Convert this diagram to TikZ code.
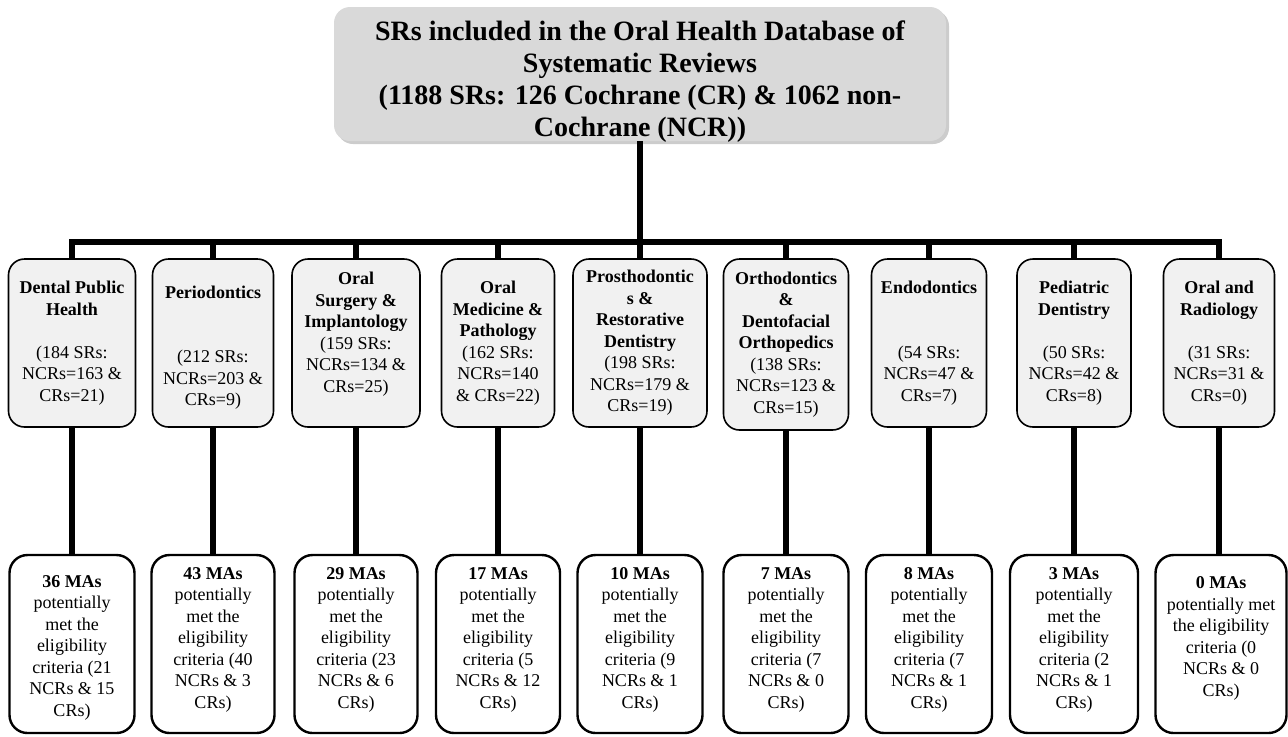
\documentclass[tikz,border=0pt]{standalone}
\usepackage{fontspec}
\setmainfont{Liberation Serif}
\usetikzlibrary{shadows}
\definecolor{topgray}{RGB}{217,217,217}
\definecolor{midgray}{RGB}{241,241,241}

\begin{document}
\begin{tikzpicture}[x=0.5pt, y=-0.5pt, line join=miter,
    every node/.style={align=center, inner sep=0pt, font=\fontsize{9}{10.75}\selectfont},
    topbox/.style={rounded corners=8pt, fill=topgray, minimum width=306pt,
        text height=64.5pt, text depth=2.5pt,
        font=\fontsize{14}{15.85}\selectfont\bfseries,
        drop shadow={shadow xshift=1.5pt, shadow yshift=-1.5pt, fill=black!40}},
    midbox/.style={draw, line width=0.8pt, rounded corners=8pt, fill=midgray, minimum height=84pt},
    botbox/.style={draw, line width=1.2pt, rounded corners=9pt, fill=white,
        text height=76.5pt, text depth=12.5pt},
    conn/.style={line width=3pt}]
    \useasboundingbox (0,0) rectangle (1288,736);

    % database
    \node[topbox] (db) at (640,74) {SRs included in the Oral Health Database of\\Systematic Reviews\\(1188 SRs: 126 Cochrane (CR) \& 1062 non-\\Cochrane (NCR))};
    \coordinate (bar) at (640,242);

    % specialties
    \node[midbox, minimum width=63.5pt] (m1) at (72,343) {\textbf{Dental Public}\\\textbf{Health}\\\mbox{}\\(184 SRs:\\NCRs=163 \&\\CRs=21)};
    \node[midbox, minimum width=60.5pt] (m2) at (213,343) {\mbox{}\\\textbf{Periodontics}\\\mbox{}\\\mbox{}\\(212 SRs:\\NCRs=203 \&\\CRs=9)};
    \node[midbox, minimum width=64pt] (m3) at (356,343) {\textbf{Oral}\\\textbf{Surgery \&}\\\textbf{Implantology}\\(159 SRs:\\NCRs=134 \&\\CRs=25)\\\mbox{}};
    \node[midbox, minimum width=56.5pt] (m4) at (498,343) {\textbf{Oral}\\\textbf{Medicine \&}\\\textbf{Pathology}\\(162 SRs:\\NCRs=140\\\& CRs=22)};
    \node[midbox, minimum width=67pt] (m5) at (640,343) {\textbf{Prosthodontic}\\\textbf{s \&}\\\textbf{Restorative}\\\textbf{Dentistry}\\(198 SRs:\\NCRs=179 \&\\CRs=19)};
    \node[midbox, minimum width=62.5pt, minimum height=85.5pt] (m6) at (786,344.5) {\textbf{Orthodontics}\\\textbf{\&}\\\textbf{Dentofacial}\\\textbf{Orthopedics}\\(138 SRs:\\NCRs=123 \&\\CRs=15)};
    \node[midbox, minimum width=57.5pt] (m7) at (929,343) {\textbf{Endodontics}\\\mbox{}\\\mbox{}\\(54 SRs:\\NCRs=47 \&\\CRs=7)};
    \node[midbox, minimum width=57pt] (m8) at (1074,343) {\textbf{Pediatric}\\\textbf{Dentistry}\\\mbox{}\\(50 SRs:\\NCRs=42 \&\\CRs=8)};
    \node[midbox, minimum width=55.5pt] (m9) at (1219,343) {\textbf{Oral and}\\\textbf{Radiology}\\\mbox{}\\(31 SRs:\\NCRs=31 \&\\CRs=0)};

    % meta-analyses
    \node[botbox, minimum width=62.5pt, text height=80.5pt, text depth=8.5pt] (b1) at (72,644) {\textbf{36 MAs}\\potentially\\met the\\eligibility\\criteria (21\\NCRs \& 15\\CRs)};
    \node[botbox, minimum width=61.5pt] (b2) at (213,644) {\textbf{43 MAs}\\potentially\\met the\\eligibility\\criteria (40\\NCRs \& 3\\CRs)};
    \node[botbox, minimum width=61.5pt] (b3) at (356,644) {\textbf{29 MAs}\\potentially\\met the\\eligibility\\criteria (23\\NCRs \& 6\\CRs)};
    \node[botbox, minimum width=62pt] (b4) at (498,644) {\textbf{17 MAs}\\potentially\\met the\\eligibility\\criteria (5\\NCRs \& 12\\CRs)};
    \node[botbox, minimum width=62.5pt] (b5) at (640,644) {\textbf{10 MAs}\\potentially\\met the\\eligibility\\criteria (9\\NCRs \& 1\\CRs)};
    \node[botbox, minimum width=62.5pt] (b6) at (786,644) {\textbf{7 MAs}\\potentially\\met the\\eligibility\\criteria (7\\NCRs \& 0\\CRs)};
    \node[botbox, minimum width=63pt] (b7) at (929,644) {\textbf{8 MAs}\\potentially\\met the\\eligibility\\criteria (7\\NCRs \& 1\\CRs)};
    \node[botbox, minimum width=64pt] (b8) at (1074,644) {\textbf{3 MAs}\\potentially\\met the\\eligibility\\criteria (2\\NCRs \& 1\\CRs)};
    \node[botbox, minimum width=65.5pt, text height=70.5pt, text depth=18.5pt] (b9) at (1221,644) {\textbf{0 MAs}\\potentially met\\the eligibility\\criteria (0\\NCRs \& 0\\CRs)};

    % tree
    \draw[conn] (db.south) -- (bar);
    \draw[conn] (m1.north) -- (m1.north |- bar) -- (m9.north |- bar) -- (m9.north);
    \draw[conn] (m2.north) -- (m2.north |- bar);
    \draw[conn] (m3.north) -- (m3.north |- bar);
    \draw[conn] (m4.north) -- (m4.north |- bar);
    \draw[conn] (m5.north) -- (m5.north |- bar);
    \draw[conn] (m6.north) -- (m6.north |- bar);
    \draw[conn] (m7.north) -- (m7.north |- bar);
    \draw[conn] (m8.north) -- (m8.north |- bar);
    \draw[conn] (m1.south) -- (m1.south |- b1.north);
    \draw[conn] (m2.south) -- (m2.south |- b2.north);
    \draw[conn] (m3.south) -- (m3.south |- b3.north);
    \draw[conn] (m4.south) -- (m4.south |- b4.north);
    \draw[conn] (m5.south) -- (m5.south |- b5.north);
    \draw[conn] (m6.south) -- (m6.south |- b6.north);
    \draw[conn] (m7.south) -- (m7.south |- b7.north);
    \draw[conn] (m8.south) -- (m8.south |- b8.north);
    \draw[conn] (m9.south) -- (m9.south |- b9.north);
\end{tikzpicture}
\end{document}
